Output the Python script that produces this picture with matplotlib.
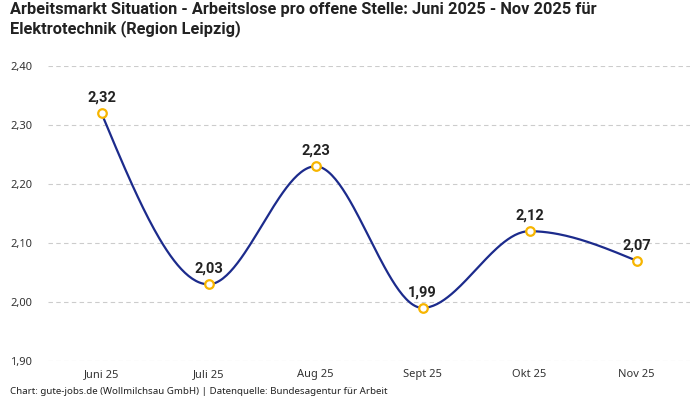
import matplotlib
matplotlib.use("Agg")
import matplotlib.pyplot as plt
import numpy as np

# Daten
monate = ["Juni 25", "Juli 25", "Aug 25", "Sept 25", "Okt 25", "Nov 25"]
werte = [2.32, 2.03, 2.23, 1.99, 2.12, 2.07]
y_ticks = [1.90, 2.00, 2.10, 2.20, 2.30, 2.40]

titel = "Arbeitsmarkt Situation - Arbeitslose pro offene Stelle: Juni 2025 - Nov 2025 für\nElektrotechnik (Region Leipzig)"
quelle = "Chart: gute-jobs.de (Wollmilchsau GmbH) | Datenquelle: Bundesagentur für Arbeit"

plt.rcParams['font.family'] = ['Noto Sans', 'DejaVu Sans']
FETT = ['Roboto', 'DejaVu Sans']  # Noto Sans hat hier keinen Bold-Schnitt

LINIE = "#1c2b8c"
PUNKT = "#f7b500"


def monotone_kurve(xs, ys, n=60):
    """Monotone kubische Interpolation (wie d3 curveMonotoneX)."""
    xs = np.asarray(xs, float)
    ys = np.asarray(ys, float)
    m = len(xs)
    t = np.zeros(m)
    for i in range(1, m - 1):
        h0 = xs[i] - xs[i - 1]
        h1 = xs[i + 1] - xs[i]
        s0 = (ys[i] - ys[i - 1]) / h0
        s1 = (ys[i + 1] - ys[i]) / h1
        p = (s0 * h1 + s1 * h0) / (h0 + h1)
        t[i] = (np.sign(s0) + np.sign(s1)) * min(abs(s0), abs(s1), 0.5 * abs(p))
    h = xs[1] - xs[0]
    t[0] = (3 * (ys[1] - ys[0]) / h - t[1]) / 2
    h = xs[-1] - xs[-2]
    t[-1] = (3 * (ys[-1] - ys[-2]) / h - t[-2]) / 2

    kx, ky = [], []
    for i in range(m - 1):
        dx = xs[i + 1] - xs[i]
        u = np.linspace(0, 1, n)
        h00 = 2 * u**3 - 3 * u**2 + 1
        h10 = u**3 - 2 * u**2 + u
        h01 = -2 * u**3 + 3 * u**2
        h11 = u**3 - u**2
        kx.extend(xs[i] + u * dx)
        ky.extend(h00 * ys[i] + h10 * dx * t[i] + h01 * ys[i + 1] + h11 * dx * t[i + 1])
    return np.array(kx), np.array(ky)


fig = plt.figure(figsize=(7, 4), dpi=100)
ax = fig.add_axes([48 / 700, 39 / 400, 642 / 700, 295 / 400])

x = np.arange(len(monate))
kx, ky = monotone_kurve(x, werte)
ax.plot(kx, ky, color=LINIE, linewidth=1.6, zorder=3)
ax.scatter(x, werte, s=38, facecolor="white", edgecolor=PUNKT, linewidth=1.6, zorder=4)

for xi, wert in zip(x, werte):
    ax.annotate(f"{wert:.2f}".replace(".", ","), (xi, wert), xytext=(0, 6),
                textcoords="offset points", ha="center", va="bottom",
                fontsize=10.5, fontweight="bold", family=FETT, color="#222222")

ax.set_xlim(-0.5, len(monate) - 0.5)
ax.set_ylim(1.90, 2.40)
ax.set_yticks(y_ticks)
ax.set_yticklabels([f"{v:.2f}".replace(".", ",") for v in y_ticks])
ax.set_xticks(x)
ax.set_xticklabels(monate)

ax.grid(axis="y", color="#cccccc", linestyle=(0, (4, 3)), linewidth=0.8)
ax.set_axisbelow(True)
for s in ax.spines.values():
    s.set_visible(False)
ax.tick_params(axis="both", length=0, labelsize=8, colors="#333333")
ax.tick_params(axis="x", pad=6)
# Y-Beschriftung linksbündig bei ca. 10 px vom Rand
ax.tick_params(axis="y", pad=27)
for lbl in ax.get_yticklabels():
    lbl.set_horizontalalignment("left")

fig.text(10 / 700, 1 - 2 / 400, titel, ha="left", va="top", fontsize=11.8,
         fontweight="bold", family=FETT, color="#222222", linespacing=1.2)
fig.text(10 / 700, 4 / 400, quelle, ha="left", va="bottom", fontsize=7, color="#222222")

fig.savefig("out.png", dpi=100)
